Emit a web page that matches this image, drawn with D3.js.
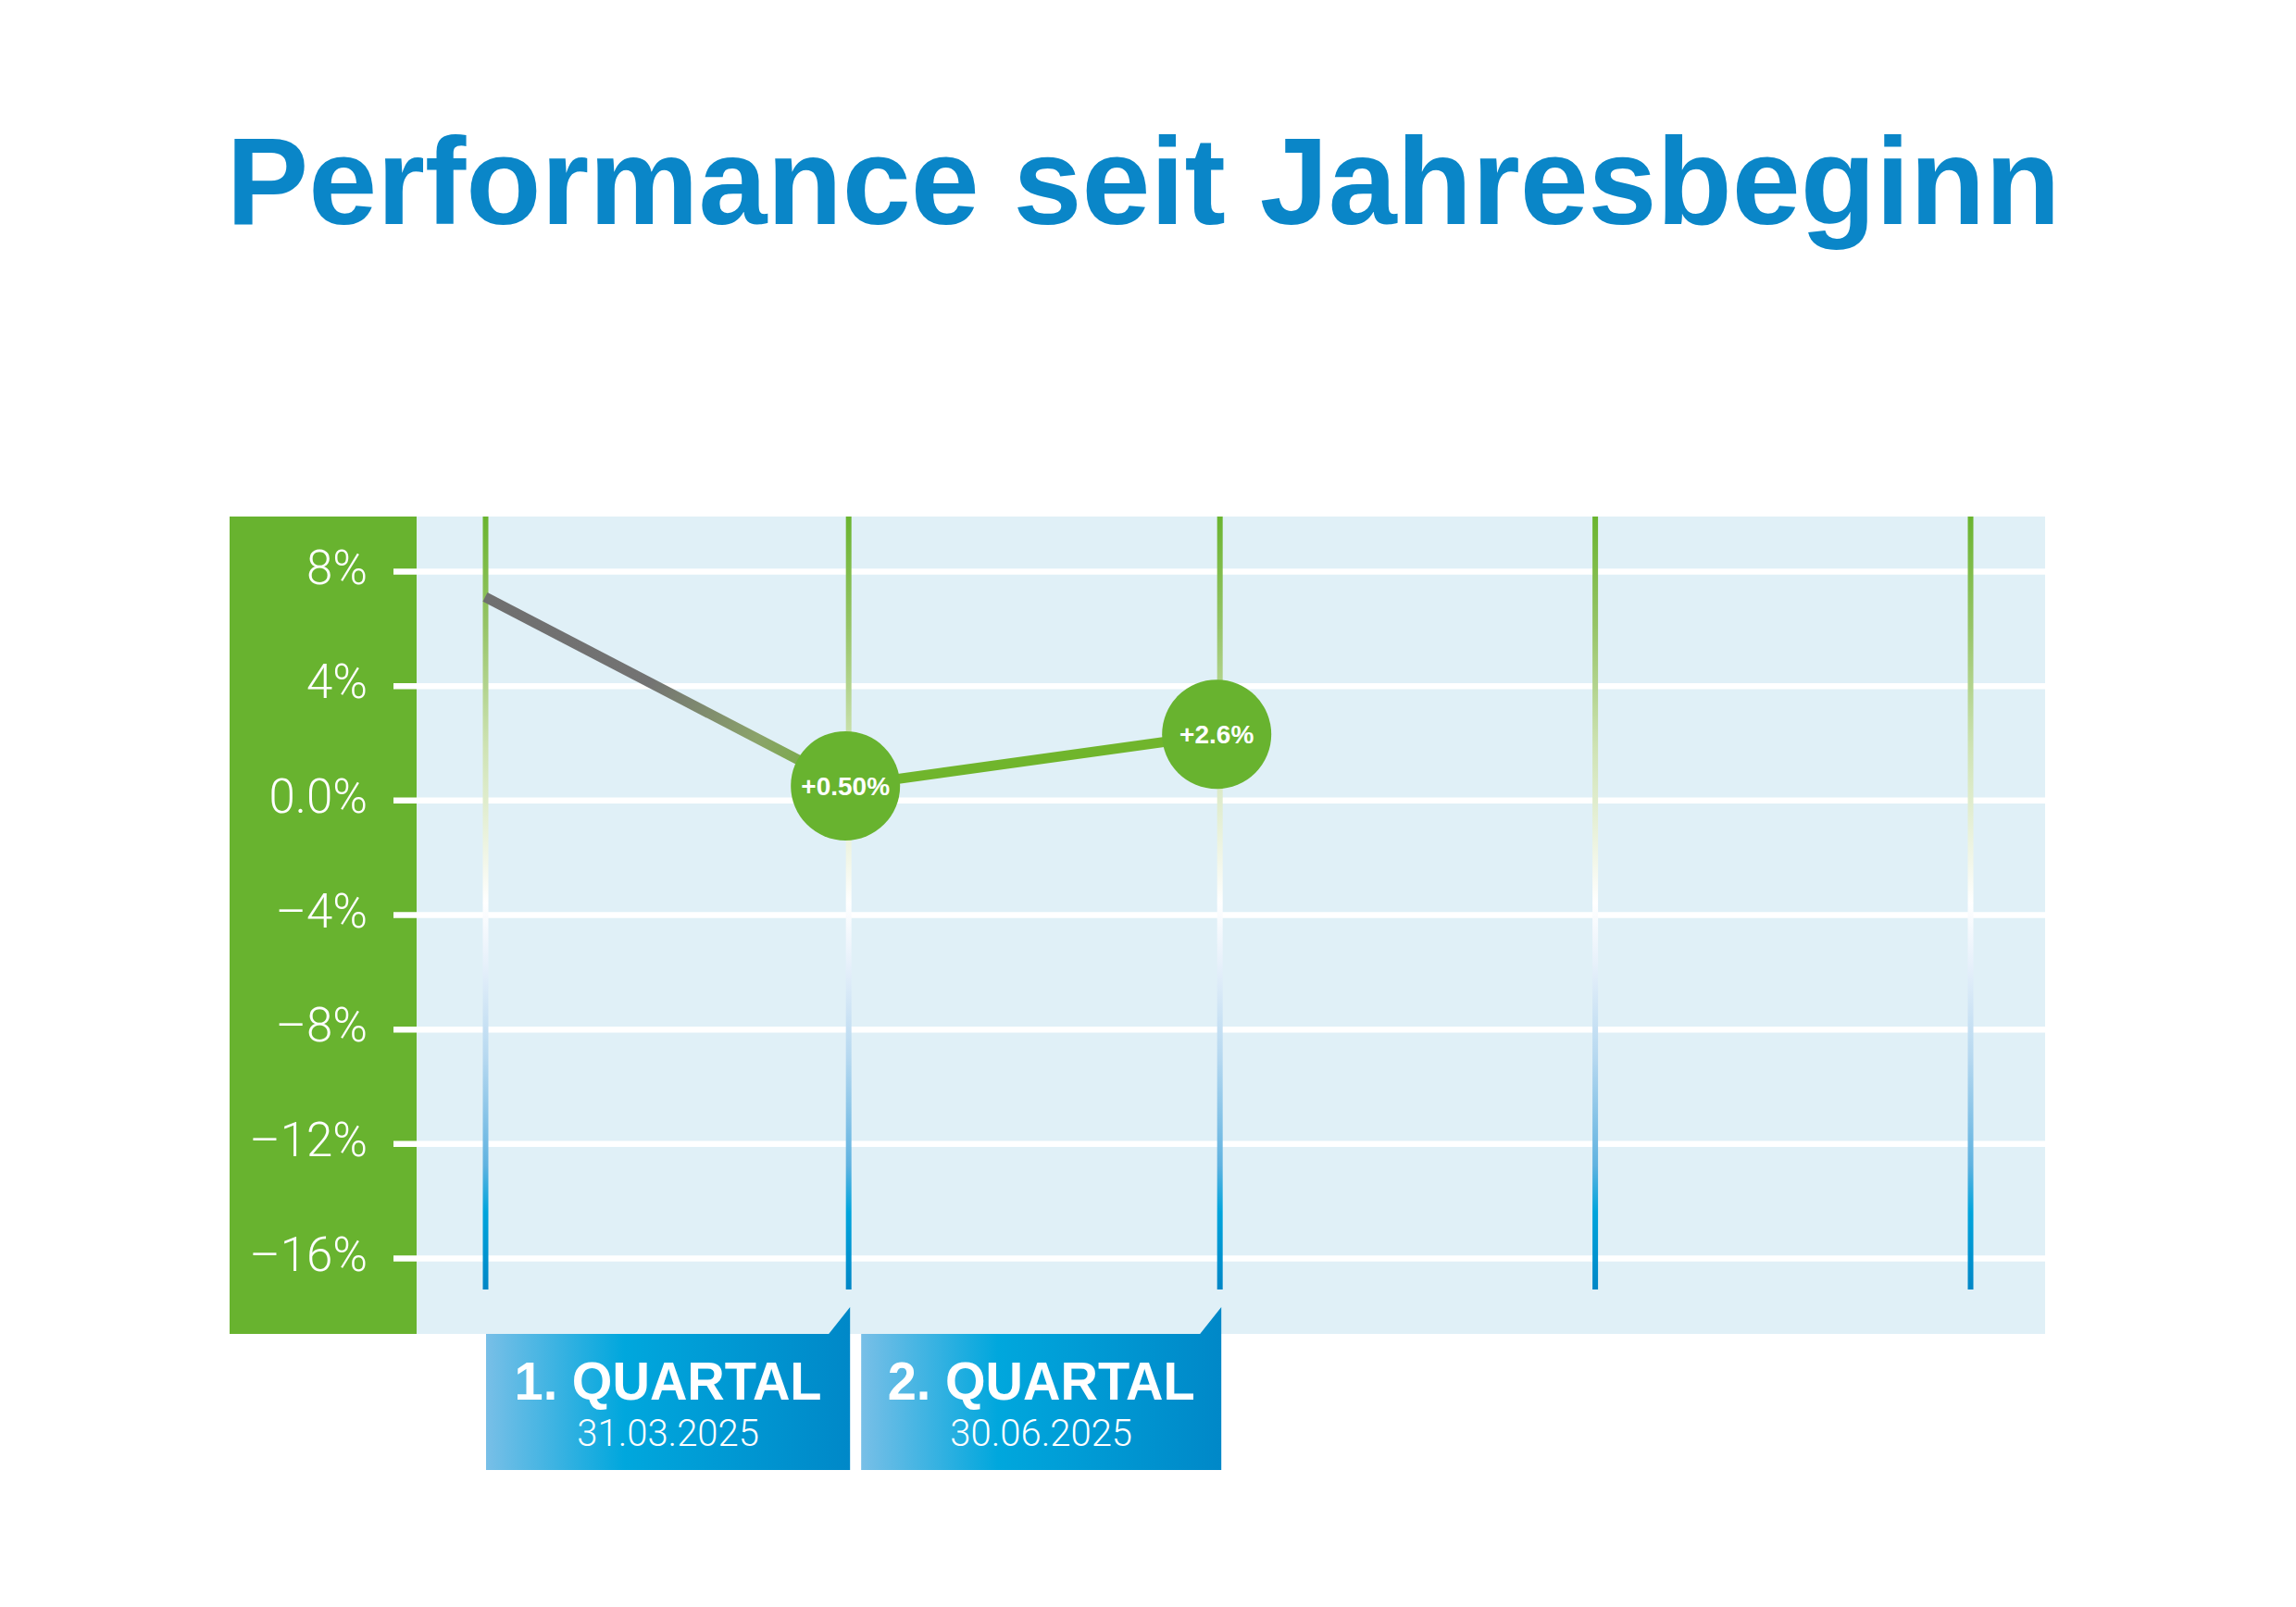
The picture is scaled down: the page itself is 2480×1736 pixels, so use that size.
<!DOCTYPE html>
<html>
<head>
    <title>Performance seit Jahresbeginn</title>
    <script src="https://d3js.org/d3.v7.min.js"></script>
    <style>
        html, body { margin: 0; padding: 0; background: #ffffff; }
        svg { display: block; }
    </style>
</head>
<body>
    <svg width="2480" height="1736"></svg>

    <script>
        // data
        var gridDates = ["2025-01-01", "2025-03-31", "2025-06-30", "2025-09-30", "2025-12-31"];
        var perfDates = ["2025-01-01", "2025-03-31", "2025-06-30"];
        var perfValues = [7.1, 0.5, 2.3];
        var pointLabels = ["", "+0.50%", "+2.6%"];
        var quarterNames = ["1. QUARTAL", "2. QUARTAL"];
        var quarterDates = ["31.03.2025", "30.06.2025"];
        var yTicks = [8, 4, 0, -4, -8, -12, -16];
        var yTickLabels = ["8%", "4%", "0.0%", "\u20134%", "\u20138%", "\u201312%", "\u201316%"];

        var parse = d3.timeParse("%Y-%m-%d");
        var green = "#68b32f";

        var svg = d3.select("svg");
        var defs = svg.append("defs");

        // layout
        var panelLeft = 248, plotLeft = 450, plotRight = 2209, plotTop = 558, plotBottom = 1441;
        var lineTop = 558, lineBottom = 1393;

        var x = d3.scaleTime()
            .domain([parse(gridDates[0]), parse(gridDates[gridDates.length - 1])])
            .range([524, 2128]);
        var y = d3.scaleLinear().domain([-16, 8]).range([1359, 617]);

        // title
        svg.append("text")
            .attr("x", 1235).attr("y", 242)
            .attr("text-anchor", "middle")
            .style("font-family", "'Liberation Sans', Arial, sans-serif")
            .style("font-weight", "bold")
            .style("font-size", "133px")
            .style("fill", "#0a86c8")
            .text("Performance seit Jahresbeginn");

        // panels
        svg.append("rect")
            .attr("x", panelLeft).attr("y", plotTop)
            .attr("width", plotLeft - panelLeft).attr("height", plotBottom - plotTop)
            .attr("fill", green);
        svg.append("rect")
            .attr("x", plotLeft).attr("y", plotTop)
            .attr("width", plotRight - plotLeft).attr("height", plotBottom - plotTop)
            .attr("fill", "#e0f0f7");

        // y axis + grid
        var yAxis = d3.axisLeft(y)
            .tickValues(yTicks)
            .tickFormat(function(d, i) { return yTickLabels[i]; })
            .tickSize(-(plotRight - 425))
            .tickPadding(28);
        var gy = svg.append("g").attr("transform", "translate(425,0)").call(yAxis);
        gy.select(".domain").remove();
        gy.selectAll("line").attr("stroke", "#ffffff").attr("stroke-width", 6.5);
        gy.selectAll("text")
            .attr("dy", 13)
            .style("font-family", "Roboto, 'Liberation Sans', sans-serif")
            .style("font-weight", 300)
            .style("font-size", "51px")
            .style("fill", "#ffffff");

        // vertical lines with gradient
        var vg = defs.append("linearGradient")
            .attr("id", "vgrad")
            .attr("gradientUnits", "userSpaceOnUse")
            .attr("x1", 0).attr("y1", lineTop).attr("x2", 0).attr("y2", lineBottom);
        [[0, "#6ab42f"], [0.14, "#96c466"], [0.3, "#cfe3b4"], [0.45, "#f3f7ea"], [0.5, "#ffffff"],
         [0.58, "#e6f0fa"], [0.7, "#b6d8f0"], [0.84, "#5fb2e0"], [0.9, "#00a4dc"], [1, "#0086c6"]]
            .forEach(function(s) {
                vg.append("stop").attr("offset", s[0]).attr("stop-color", s[1]);
            });

        var xAxis = d3.axisTop(x)
            .tickValues(gridDates.map(parse))
            .tickSize(-(lineBottom - lineTop))
            .tickFormat("");
        var gx = svg.append("g").attr("transform", "translate(0," + lineTop + ")").call(xAxis);
        gx.select(".domain").remove();
        gx.selectAll("line")
            .attr("stroke", "url(#vgrad)")
            .attr("stroke-width", 6)
            .attr("transform", "translate(0," + (-lineTop) + ")")
            .attr("y1", lineTop).attr("y2", lineBottom);

        // performance line
        var pts = perfDates.map(function(d, i) {
            return { x: x(parse(d)), y: y(perfValues[i]), label: pointLabels[i] };
        });

        var lg = defs.append("linearGradient")
            .attr("id", "lgrad")
            .attr("gradientUnits", "userSpaceOnUse")
            .attr("x1", pts[0].x).attr("y1", pts[0].y)
            .attr("x2", pts[1].x).attr("y2", pts[1].y);
        lg.append("stop").attr("offset", 0).attr("stop-color", "#6f6f6f");
        lg.append("stop").attr("offset", 0.45).attr("stop-color", "#737373");
        lg.append("stop").attr("offset", 0.75).attr("stop-color", "#8ba36a");
        lg.append("stop").attr("offset", 1).attr("stop-color", "#6db22e");

        var line = d3.line().x(function(d) { return d.x; }).y(function(d) { return d.y; });

        svg.append("path")
            .datum(pts.slice(0, 2))
            .attr("d", line)
            .attr("fill", "none")
            .attr("stroke", "url(#lgrad)")
            .attr("stroke-width", 11);
        svg.append("path")
            .datum(pts.slice(1))
            .attr("d", line)
            .attr("fill", "none")
            .attr("stroke", "#70b52c")
            .attr("stroke-width", 11);

        var nodes = svg.selectAll(".pt")
            .data(pts.filter(function(d) { return d.label; }))
            .enter().append("g")
            .attr("transform", function(d) { return "translate(" + (d.x - 3) + "," + d.y + ")"; });
        nodes.append("circle").attr("r", 59).attr("fill", green);
        nodes.append("text")
            .attr("text-anchor", "middle")
            .attr("dy", "0.36em")
            .style("font-family", "'Liberation Sans', Arial, sans-serif")
            .style("font-weight", "bold")
            .style("font-size", "28px")
            .style("fill", "#ffffff")
            .text(function(d) { return d.label; });

        // quarter boxes
        var bg = defs.append("linearGradient").attr("id", "bgrad")
            .attr("x1", 0).attr("y1", 0).attr("x2", 1).attr("y2", 0);
        bg.append("stop").attr("offset", 0).attr("stop-color", "#78bfe7");
        bg.append("stop").attr("offset", 0.38).attr("stop-color", "#00a7dd");
        bg.append("stop").attr("offset", 1).attr("stop-color", "#0088c8");

        var quarters = quarterNames.map(function(n, i) {
            return { name: n, date: quarterDates[i],
                     x0: x(parse(gridDates[i])) + (i > 0 ? 14 : 1),
                     x1: x(parse(gridDates[i + 1])) + 2 };
        });
        var boxTop = 1441, boxBottom = 1588, notch = 29, notchW = 23;
        var qg = svg.selectAll(".q").data(quarters).enter().append("g");
        qg.append("path")
            .attr("d", function(d) {
                return "M" + d.x0 + "," + boxTop +
                    "L" + (d.x1 - notchW) + "," + boxTop +
                    "L" + d.x1 + "," + (boxTop - notch) +
                    "L" + d.x1 + "," + boxBottom +
                    "L" + d.x0 + "," + boxBottom + "Z";
            })
            .attr("fill", "url(#bgrad)");
        qg.append("text")
            .attr("x", function(d) { return (d.x0 + d.x1) / 2; })
            .attr("y", 1512)
            .attr("text-anchor", "middle")
            .attr("textLength", 332)
            .attr("lengthAdjust", "spacingAndGlyphs")
            .style("font-family", "'Liberation Sans', Arial, sans-serif")
            .style("font-weight", "bold")
            .style("font-size", "58px")
            .style("fill", "#ffffff")
            .text(function(d) { return d.name; });
        qg.append("text")
            .attr("x", function(d) { return (d.x0 + d.x1) / 2; })
            .attr("y", 1562)
            .attr("text-anchor", "middle")
            .style("font-family", "Roboto, 'Liberation Sans', sans-serif")
            .style("font-weight", 300)
            .style("font-size", "40px")
            .style("fill", "#ffffff")
            .text(function(d) { return d.date; });
    </script>
</body>
</html>
